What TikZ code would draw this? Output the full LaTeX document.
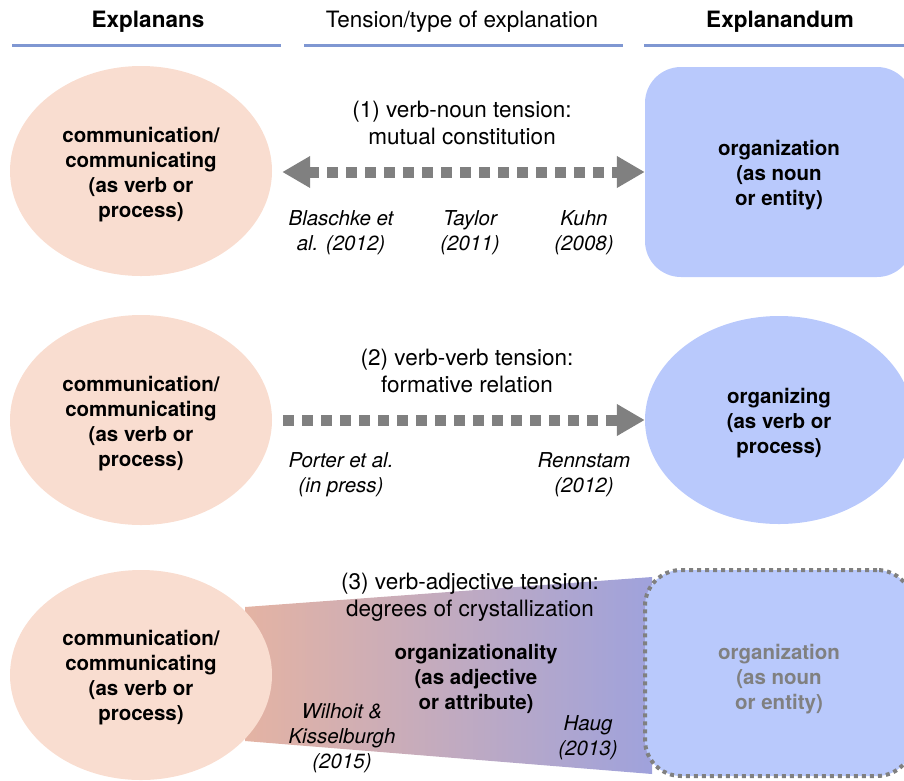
\documentclass[tikz,border=0pt]{standalone}
\usepackage{fontspec}
\setmainfont{TeX Gyre Heros}
\usetikzlibrary{shapes.geometric, arrows.meta, positioning}
\definecolor{peachfill}{HTML}{F9DDD0}
\definecolor{nounblue}{HTML}{B9C9FC}
\definecolor{ruleblue}{HTML}{7F97D2}
\definecolor{arrowgray}{HTML}{808080}
\definecolor{shadesalmon}{HTML}{E4B3A3}
\definecolor{shadeviolet}{HTML}{9FA2DC}

\tikzset{
  explanans/.style={ellipse, fill=peachfill, minimum width=262pt, minimum height=210pt, inner sep=0pt},
  nounbox/.style={rectangle, rounded corners=36pt, fill=nounblue, minimum width=268pt, minimum height=210pt},
  verbball/.style={ellipse, fill=nounblue, minimum width=268pt, minimum height=208pt, inner sep=0pt},
  boldtext/.style={align=center, font=\bfseries},
  headrule/.style={ruleblue, line width=3pt},
  tensionline/.style={arrowgray, line width=11pt, dash pattern=on 11pt off 8pt},
  bigtip/.tip={Triangle[length=28pt, width=30pt]},
  citation/.style={align=center, font=\itshape},
  tensionlabel/.style={align=center, font=\fontsize{22.5}{26.5}\selectfont},
  headlabel/.style={font=\fontsize{22.5}{26.5}\selectfont},
  headbold/.style={font=\fontsize{22.5}{26.5}\selectfont\bfseries}
}

\begin{document}
\fontsize{20.5}{25}\selectfont
\begin{tikzpicture}[x=1pt, y=-1pt]
    \useasboundingbox (0,0) rectangle (904,780);
    \clip (0,0) rectangle (904,780);

    % column heads
    \node[headbold] (headL) at (148,22) {Explanans};
    \node[headlabel] (headM) at (462,22) {Tension/type of explanation};
    \node[headbold] (headR) at (780,22) {Explanandum};
    \draw[headrule] (12,45) -- (281,45);
    \draw[headrule] (304,45) -- (623,45);
    \draw[headrule] (644,45) -- (904,45);

    % (1) verb-noun
    \node[explanans] (comm1) at (141,171) {};
    \node[boldtext] (comm1txt) at (141,175) {communication/\\communicating\\(as verb or\\process)};
    \node[nounbox] (org1) at (779,172) {};
    \node[boldtext] (org1txt) at (779,175) {organization\\(as noun\\or entity)};
    \draw[tensionline, bigtip-bigtip, shorten <=10pt] (comm1.east |- org1.west) -- (org1.west);
    \node[tensionlabel] (ten1) at (462,123) {(1) verb-noun tension:\\mutual constitution};
    \node[citation] (blaschke) at (341,233) {Blaschke et\\al. (2012)};
    \node[citation] (taylor) at (470,233) {Taylor\\(2011)};
    \node[citation] (kuhn) at (584,233) {Kuhn\\(2008)};

    % (2) verb-verb
    \node[explanans] (comm2) at (141,420) {};
    \node[boldtext] (comm2txt) at (141,424) {communication/\\communicating\\(as verb or\\process)};
    \node[verbball] (org2) at (779,420) {};
    \node[boldtext] (org2txt) at (779,423) {organizing\\(as verb or\\process)};
    \draw[tensionline, -bigtip, shorten <=11pt] (comm2.east) -- (org2.west);
    \node[tensionlabel] (ten2) at (467,371) {(2) verb-verb tension:\\formative relation};
    \node[citation] (porter) at (341,475) {Porter et al.\\(in press)};
    \node[citation] (rennstam) at (584,475) {Rennstam\\(2012)};

    % (3) verb-adjective
    \shade[left color=shadesalmon, right color=shadeviolet] (245,607) -- (652,577) -- (652,774) -- (245,741) -- cycle;
    \node[explanans] (comm3) at (141,675) {};
    \node[boldtext] (comm3txt) at (141,678) {communication/\\communicating\\(as verb or\\process)};
    \node[nounbox, draw=arrowgray, line width=4pt, dash pattern=on 4pt off 4pt, minimum height=206pt] (org3) at (779,673) {};
    \node[boldtext, text=arrowgray] (org3txt) at (779,679) {organization\\(as noun\\or entity)};
    \node[tensionlabel] (ten3) at (470,597) {(3) verb-adjective tension:\\degrees of crystallization};
    \node[boldtext] (orgality) at (476,679) {organizationality\\(as adjective\\or attribute)};
    \node[citation] (wilhoit) at (342,738) {Wilhoit \&\\Kisselburgh\\(2015)};
    \node[citation] (haug) at (588,738) {Haug\\(2013)};
  \end{tikzpicture}
\end{document}
